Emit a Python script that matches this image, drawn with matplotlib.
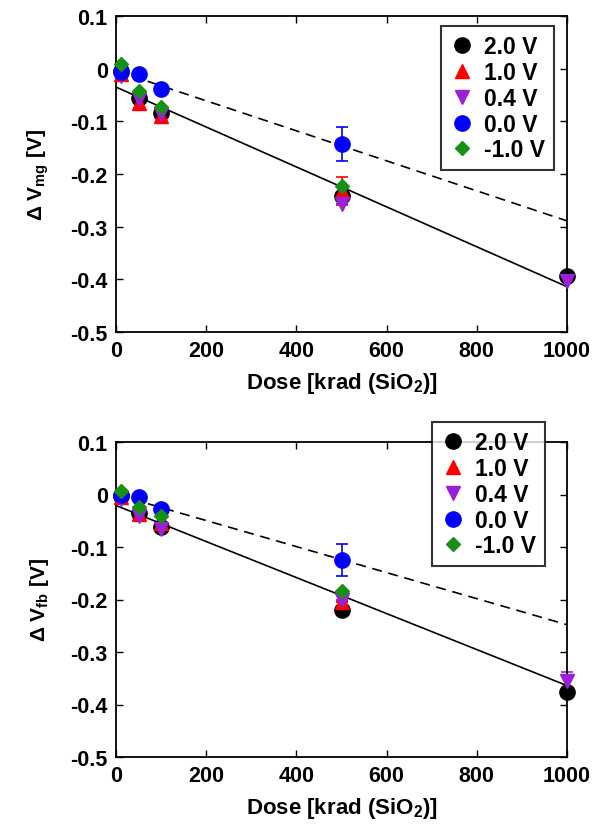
import numpy as np
import matplotlib
matplotlib.use("Agg")
import matplotlib.pyplot as plt

plt.rcParams['font.family'] = ['Liberation Sans', 'DejaVu Sans']
plt.rcParams['font.weight'] = 'bold'
plt.rcParams['mathtext.fontset'] = 'custom'
plt.rcParams['mathtext.rm'] = 'Liberation Sans:bold'
plt.rcParams['mathtext.bf'] = 'Liberation Sans:bold'

dose = [10, 50, 100, 500, 1000]
bias_labels = ['2.0 V', '1.0 V', '0.4 V', '0.0 V', '-1.0 V']
colors = ['black', 'red', '#9b1fd6', 'blue', '#169116']
markers = ['o', '^', 'v', 'o', 'D']
msizes = [11, 10, 10, 11, 7.5]

nan = np.nan
# Midgap voltage shift
dvmg = {
    '2.0 V':  [-0.005, -0.055, -0.085, -0.242, -0.393],
    '1.0 V':  [-0.010, -0.065, -0.090, -0.232, nan],
    '0.4 V':  [-0.014, -0.057, -0.086, -0.257, -0.403],
    '0.0 V':  [-0.006, -0.010, -0.038, -0.143, nan],
    '-1.0 V': [0.009, -0.042, -0.073, -0.223, nan],
}
dvmg_err = {
    '2.0 V':  [0, 0, 0, 0, 0],
    '1.0 V':  [0, 0, 0, 0.027, 0],
    '0.4 V':  [0, 0, 0, 0, 0],
    '0.0 V':  [0, 0, 0, 0.032, 0],
    '-1.0 V': [0, 0, 0, 0, 0],
}
# Flatband voltage shift
dvfb = {
    '2.0 V':  [-0.002, -0.035, -0.062, -0.220, -0.377],
    '1.0 V':  [-0.004, -0.037, -0.055, -0.205, nan],
    '0.4 V':  [-0.008, -0.040, -0.065, -0.200, -0.355],
    '0.0 V':  [0.000, -0.004, -0.027, -0.125, nan],
    '-1.0 V': [0.007, -0.023, -0.040, -0.183, nan],
}
dvfb_err = {
    '2.0 V':  [0, 0, 0, 0, 0],
    '1.0 V':  [0, 0, 0, 0, 0],
    '0.4 V':  [0, 0, 0, 0, 0.017],
    '0.0 V':  [0, 0, 0, 0.030, 0],
    '-1.0 V': [0, 0, 0, 0, 0],
}

# Linear fits: values at 0 and 1000 krad
fit_x = [0, 1000]
mg_fit_solid = [-0.035, -0.414]
mg_fit_dashed = [-0.004, -0.289]
fb_fit_solid = [-0.021, -0.364]
fb_fit_dashed = [0.000, -0.248]

fig = plt.figure(figsize=(6.06, 8.29), dpi=100)
W, H = 606, 829
ax1 = fig.add_axes([116 / W, 1 - 333 / H, 451 / W, 316 / H])
ax2 = fig.add_axes([116 / W, 1 - 758 / H, 451 / W, 315 / H])


def draw(ax, data, errs, solid, dashed, ylabel, leg_anchor):
    ax.plot(fit_x, solid, color='black', lw=1.2, zorder=1)
    ax.plot(fit_x, dashed, color='black', lw=1.2, ls=(0, (6, 4)), zorder=1)
    handles = []
    for lab, c, m, ms in zip(bias_labels, colors, markers, msizes):
        y = np.array(data[lab], dtype=float)
        e = np.array(errs[lab], dtype=float)
        eb = ax.errorbar(dose, y, yerr=e, fmt='none', ecolor=c,
                         elinewidth=1.2, capsize=4, capthick=1.2, zorder=2)
        for art in eb.lines[1] + eb.lines[2]:
            art.set_clip_on(False)
        h, = ax.plot(dose, y, ls='none', marker=m, color=c, ms=ms, mec=c,
                     label=lab, zorder=3, clip_on=False)
        handles.append(h)
    ax.set_xlim(0, 1000)
    ax.set_ylim(-0.5, 0.1)
    ax.set_xticks([0, 200, 400, 600, 800, 1000])
    ax.set_yticks([-0.5, -0.4, -0.3, -0.2, -0.1, 0, 0.1])
    ax.set_yticklabels(['-0.5', '-0.4', '-0.3', '-0.2', '-0.1', '0', '0.1'])
    ax.tick_params(direction='in', top=True, right=True, length=5, width=1,
                   labelsize=15.5, pad=6)
    for lbl in ax.get_xticklabels() + ax.get_yticklabels():
        lbl.set_fontweight('bold')
    for s in ax.spines.values():
        s.set_linewidth(1.3)
    ax.set_xlabel(r'Dose [krad (SiO$_2$)]', fontsize=16, fontweight='bold', labelpad=6)
    ax.set_ylabel(ylabel, fontsize=15, fontweight='bold', labelpad=14)
    leg = ax.legend(handles=handles, loc='upper left', bbox_to_anchor=leg_anchor,
                    fontsize=16.5, frameon=True, fancybox=False, edgecolor='black',
                    handletextpad=0.4, borderpad=0.4, labelspacing=0.12,
                    handlelength=1.1, numpoints=1, borderaxespad=0)
    leg.get_frame().set_linewidth(1.5)
    leg.set_zorder(5)
    for t in leg.get_texts():
        t.set_fontweight('bold')


draw(ax1, dvmg, dvmg_err, mg_fit_solid, mg_fit_dashed,
     r'Δ V$_{\mathregular{mg}}$ [V]', (0.72, 0.968))
draw(ax2, dvfb, dvfb_err, fb_fit_solid, fb_fit_dashed,
     r'Δ V$_{\mathregular{fb}}$ [V]', (0.70, 1.063))

fig.savefig('out.png', dpi=100)
